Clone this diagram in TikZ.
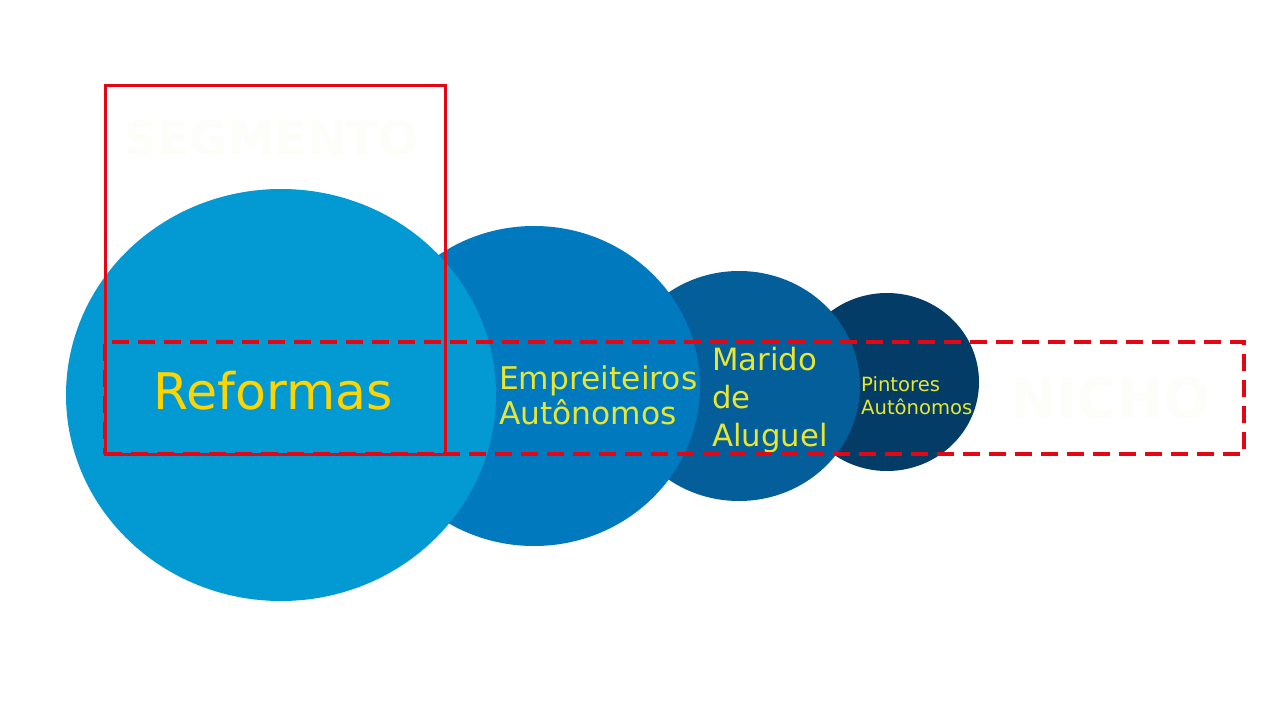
\documentclass[tikz,border=0pt]{standalone}
\usepackage{fontspec}
\setmainfont{DejaVu Sans}
\usetikzlibrary{shapes.geometric}
\definecolor{cA}{HTML}{0399D3}
\definecolor{cB}{HTML}{0179BE}
\definecolor{cC}{HTML}{035E99}
\definecolor{cD}{HTML}{033C67}
\definecolor{redline}{HTML}{E30613}
\definecolor{goldtext}{HTML}{FFD500}
\definecolor{limetext}{HTML}{E6E633}
\definecolor{ghost}{HTML}{FDFDF9}
\tikzset{
  bubble/.style={ellipse, inner sep=0pt, draw=none},
  lbl/.style={inner sep=0pt, align=left, anchor=west},
  frame/.style={draw=redline, line width=3pt},
  dframe/.style={draw=redline, line width=3.5pt, dash pattern=on 17pt off 9pt},
  ghosttext/.style={inner sep=0pt, text=ghost, font=\bfseries}
}
\begin{document}
\begin{tikzpicture}[x=1pt,y=-1pt]
\useasboundingbox (0,0) rectangle (1280,720);
\fill[white] (0,0) rectangle (1280,720);
% bubbles, smallest first so larger ones lie on top
\node[bubble, fill=cD, minimum width=184pt, minimum height=178pt] (pint) at (887,382) {};
\node[bubble, fill=cC, minimum width=242pt, minimum height=230pt] (mar) at (739,386) {};
\node[bubble, fill=cB, minimum width=332pt, minimum height=320pt] (emp) at (534,386) {};
\node[bubble, fill=cA, minimum width=430pt, minimum height=412pt] (ref) at (281,395) {};
% labels
\node[inner sep=0pt, text=goldtext, font=\fontsize{50.5}{60}\selectfont] (tref) at (273,391) {Reformas};
\node[lbl, text=limetext, font=\fontsize{31.3}{35}\selectfont] (temp) at (499,395) {Empreiteiros\\Autônomos};
\node[lbl, text=limetext, font=\fontsize{30.7}{38}\selectfont] (tmar) at (712,400) {Marido\\de\\Aluguel};
\node[lbl, text=limetext, font=\fontsize{19.6}{23}\selectfont] (tpint) at (861,396) {Pintores\\Autônomos};
% ghost titles
\node[ghosttext, font=\bfseries\fontsize{47}{50}\selectfont] (seg) at (271,138) {SEGMENTO};
\node[ghosttext, font=\bfseries\fontsize{55}{60}\selectfont] (nicho) at (1110,398) {NICHO};
% frames
\node[frame, inner sep=0pt, minimum width=340pt, minimum height=369pt] (segbox) at (275,269.5) {};
\node[dframe, inner sep=0pt, minimum width=1139pt, minimum height=112pt] (nichobox) at (674.5,398) {};
\end{tikzpicture}
\end{document}
